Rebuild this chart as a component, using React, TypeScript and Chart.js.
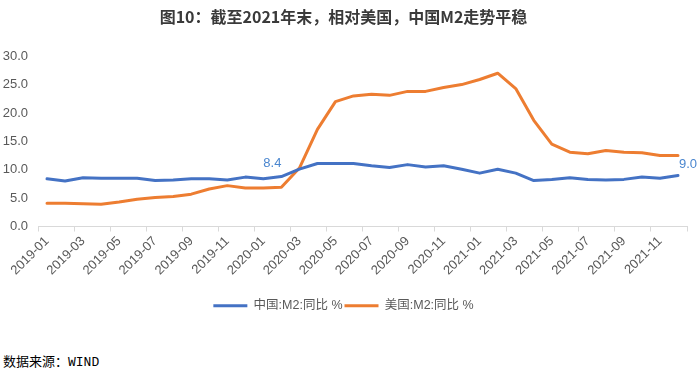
import React, { useEffect, useRef } from "react";
import { Chart, registerables } from "chart.js";

Chart.register(...registerables);

const months: string[] = [
  "2019-01","2019-02","2019-03","2019-04","2019-05","2019-06","2019-07","2019-08","2019-09","2019-10","2019-11","2019-12",
  "2020-01","2020-02","2020-03","2020-04","2020-05","2020-06","2020-07","2020-08","2020-09","2020-10","2020-11","2020-12",
  "2021-01","2021-02","2021-03","2021-04","2021-05","2021-06","2021-07","2021-08","2021-09","2021-10","2021-11","2021-12",
];

const chinaM2: number[] = [
  8.4, 8.0, 8.6, 8.5, 8.5, 8.5, 8.1, 8.2, 8.4, 8.4, 8.2, 8.7,
  8.4, 8.8, 10.1, 11.1, 11.1, 11.1, 10.7, 10.4, 10.9, 10.5, 10.7, 10.1,
  9.4, 10.1, 9.4, 8.1, 8.3, 8.6, 8.3, 8.2, 8.3, 8.7, 8.5, 9.0,
];

const usM2: number[] = [
  4.1, 4.1, 4.0, 3.9, 4.3, 4.8, 5.1, 5.3, 5.7, 6.6, 7.2, 6.8,
  6.8, 6.9, 10.3, 17.1, 22.0, 23.0, 23.3, 23.1, 23.8, 23.8, 24.5, 25.0,
  25.9, 27.0, 24.3, 18.7, 14.5, 13.1, 12.8, 13.4, 13.1, 13.0, 12.5, 12.5,
];

const seriesNames: string[] = ["中国:M2:同比 %", "美国:M2:同比 %"];
const chinaLabelIndices: number[] = [12, 35];
const yTicks = { min: 0, max: 30, step: 5 };

const titleText = "图10：截至2021年末，相对美国，中国M2走势平稳";
const sourceText = "数据来源：WIND";

const FONT = '"Liberation Sans", "Noto Sans CJK SC", sans-serif';

const pointLabels = {
  id: "pointLabels",
  afterDatasetsDraw(chart: any) {
    const meta = chart.getDatasetMeta(0);
    const ctx = chart.ctx;
    ctx.save();
    ctx.font = `13px ${FONT}`;
    ctx.fillStyle = "#4a86cf";
    ctx.textAlign = "center";
    ctx.textBaseline = "middle";
    chinaLabelIndices.forEach((i, k) => {
      const el = meta.data[i];
      if (!el) return;
      const dx = k === 0 ? 9 : 10;
      const dy = k === 0 ? -15 : -11;
      ctx.fillText(chinaM2[i].toFixed(1), el.x + dx, el.y + dy);
    });
    ctx.restore();
  },
};

export default function App() {
  const ref = useRef<HTMLCanvasElement | null>(null);

  useEffect(() => {
    if (!ref.current) return;
    const chart = new Chart(ref.current, {
      type: "line",
      data: {
        labels: months,
        datasets: [
          {
            label: seriesNames[0],
            data: chinaM2,
            borderColor: "#4472C4",
            backgroundColor: "#4472C4",
            borderWidth: 3,
            pointRadius: 0,
            tension: 0,
            borderJoinStyle: "round",
            borderCapStyle: "round",
          },
          {
            label: seriesNames[1],
            data: usM2,
            borderColor: "#ED7D31",
            backgroundColor: "#ED7D31",
            borderWidth: 3,
            pointRadius: 0,
            tension: 0,
            borderJoinStyle: "round",
            borderCapStyle: "round",
          },
        ],
      },
      options: {
        animation: false,
        responsive: true,
        maintainAspectRatio: false,
        layout: { padding: { left: 0, right: 13, top: 0, bottom: 0 } },
        plugins: {
          title: {
            display: true,
            text: titleText,
            color: "#3a3a3a",
            font: { family: '"Noto Sans CJK SC", sans-serif', size: 16, weight: "bold" },
            padding: { top: 7, bottom: 30 },
          },
          legend: {
            display: true,
            position: "bottom",
            labels: {
              boxWidth: 34,
              boxHeight: 3,
              padding: 2,
              color: "#595959",
              font: { family: FONT, size: 12.5 },
              generateLabels(chart: any) {
                const items = Chart.defaults.plugins.legend.labels.generateLabels(chart);
                return items.map((it: any) => ({ ...it, lineWidth: 0 }));
              },
            },
          },
          tooltip: { enabled: false },
        },
        scales: {
          x: {
            type: "category",
            offset: true,
            afterFit(scale: any) {
              scale.height = 71;
            },
            border: { display: true, color: "#d9d9d9", width: 1 },
            grid: {
              offset: true,
              drawOnChartArea: false,
              drawTicks: true,
              tickLength: 5,
              tickColor: (c: any) =>
                c.index === undefined || c.index % 2 === 0 ? "#d9d9d9" : "rgba(0,0,0,0)",
            },
            ticks: {
              autoSkip: false,
              maxRotation: 45,
              minRotation: 45,
              padding: 2,
              color: "#595959",
              font: { family: FONT, size: 13 },
              callback: (_v: any, i: number) => (i % 2 === 0 ? months[i] : ""),
            },
          },
          y: {
            min: yTicks.min,
            max: yTicks.max,
            afterFit(scale: any) {
              scale.width = 38;
            },
            border: { display: false },
            grid: { display: false, drawTicks: false },
            ticks: {
              stepSize: yTicks.step,
              padding: 10,
              color: "#595959",
              font: { family: FONT, size: 13 },
              callback: (v: any) => Number(v).toFixed(1),
            },
          },
        },
      },
      plugins: [pointLabels],
    });
    return () => chart.destroy();
  }, []);

  return (
    <div style={{ position: "absolute", left: 0, top: 0, width: 700, height: 373, background: "#fff" }}>
      <div style={{ position: "relative", width: 700, height: 322 }}>
        <canvas ref={ref} />
      </div>
      <div
        style={{
          position: "absolute",
          left: 3,
          top: 355,
          fontSize: 13,
          lineHeight: "16px",
          color: "#000",
          fontFamily: '"Liberation Mono", "Noto Sans CJK SC", monospace',
        }}
      >
        {sourceText}
      </div>
    </div>
  );
}
